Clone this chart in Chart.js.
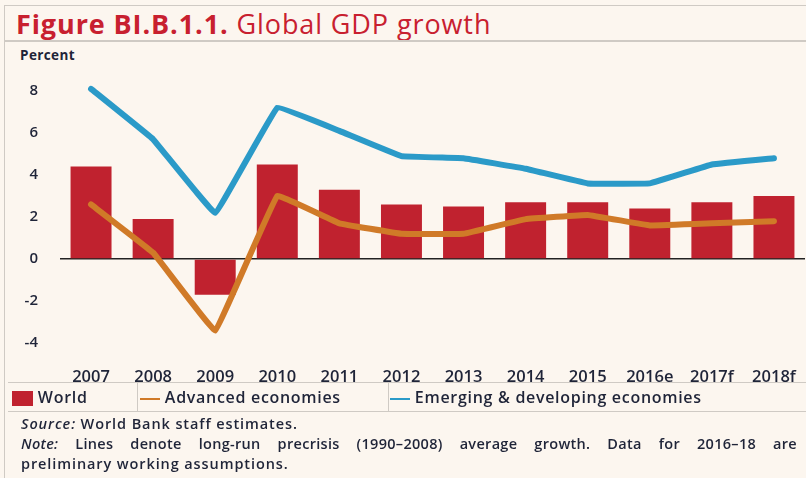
<!DOCTYPE html>
<html>
<head>
<meta charset="utf-8">
<script src="https://cdn.jsdelivr.net/npm/chart.js@4"></script>
<style>
  html, body { margin: 0; padding: 0; }
  body { width: 806px; height: 478px; background: #fcf6ef; position: relative; overflow: hidden;
         font-family: "Open Sans", sans-serif; color: #1f2438; }
  #frame { position: absolute; left: 4px; top: 5px; width: 810px; height: 472px;
           border-left: 1px solid #cfcac4; border-top: 1px solid #cfcac4; }
  #title { position: absolute; left: 16px; top: 5px; font-size: 27px; color: #c8202f; white-space: nowrap; letter-spacing: 0.9px; }
  #title b { font-weight: 700; }
  #titleRule { position: absolute; left: 4px; top: 40px; width: 802px; height: 0; border-top: 2px solid #cfcac4; }
  #unit { position: absolute; left: 20px; top: 46px; font-size: 13.5px; font-weight: 700; letter-spacing: 0.4px; }
  #wrap { position: absolute; left: 0; top: 60px; width: 806px; height: 325px; }
  #legend { position: absolute; left: 8px; top: 382px; width: 798px; height: 28px;
            border-top: 1px solid #cfcac4; border-bottom: 1px solid #cfcac4; font-size: 16px; font-weight: 600; letter-spacing: 0.7px; }
  .item { position: absolute; top: 0; height: 28px; line-height: 28px; white-space: nowrap; }
  .sep { position: absolute; top: 0; width: 0; height: 28px; border-left: 1px solid #cfcac4; }
  .sw { display: inline-block; vertical-align: middle; }
  #foot { position: absolute; left: 21px; top: 414px; width: 776px; font-size: 14.5px; font-weight: 600; line-height: 20px; letter-spacing: 0.9px; }
  #foot i { font-weight: 600; }
  .just { text-align: justify; text-align-last: justify; white-space: nowrap; letter-spacing: 0.3px; }
</style>
</head>
<body>
<div id="frame"></div>
<div id="title"><b>Figure BI.B.1.1.</b> Global GDP growth</div>
<div id="titleRule"></div>
<div id="unit">Percent</div>
<div id="wrap"><canvas id="graph"></canvas></div>
<div id="legend">
  <div class="item" style="left:4px"><span class="sw" style="width:21px;height:15px;background:#c0222f"></span> World</div>
  <div class="sep" style="left:129px"></div>
  <div class="item" style="left:132px"><span class="sw" style="width:20px;height:2px;background:#d07a28"></span> Advanced economies</div>
  <div class="sep" style="left:380px"></div>
  <div class="item" style="left:382px"><span class="sw" style="width:20px;height:2px;background:#2b9ac8"></span> Emerging &amp; developing economies</div>
</div>
<div id="foot">
  <div><i>Source:</i> World Bank staff estimates.</div>
  <div class="just"><i>Note:</i> Lines denote long-run precrisis (1990–2008) average growth. Data for 2016–18 are</div>
  <div>preliminary working assumptions.</div>
</div>

<script>
// values
const years = ['2007', '2008', '2009', '2010', '2011', '2012', '2013', '2014', '2015', '2016e', '2017f', '2018f'];
const world = [4.4, 1.9, -1.7, 4.5, 3.3, 2.6, 2.5, 2.7, 2.7, 2.4, 2.7, 3.0];
const advanced = [2.6, 0.3, -3.4, 3.0, 1.7, 1.2, 1.2, 1.9, 2.1, 1.6, 1.7, 1.8];
const emerging = [8.1, 5.7, 2.2, 7.2, 6.1, 4.9, 4.8, 4.3, 3.6, 3.6, 4.5, 4.8];
const yTicks = [8, 6, 4, 2, 0, -2, -4];

const tickFont = { family: 'Open Sans', size: 15, weight: '600' };

const cfg = {
  data: {
    labels: years,
    datasets: [
      {
        type: 'line',
        label: 'Emerging & developing economies',
        data: emerging,
        borderColor: '#2b9ac8',
        borderWidth: 6,
        borderCapStyle: 'round',
        borderJoinStyle: 'round',
        pointRadius: 0,
        tension: 0.05,
        clip: false,
        order: 0
      },
      {
        type: 'line',
        label: 'Advanced economies',
        data: advanced,
        borderColor: '#d07a28',
        borderWidth: 6,
        borderCapStyle: 'round',
        borderJoinStyle: 'round',
        pointRadius: 0,
        tension: 0.05,
        clip: false,
        order: 1
      },
      {
        type: 'bar',
        label: 'World',
        data: world,
        backgroundColor: '#c0222f',
        barPercentage: 0.66,
        categoryPercentage: 1,
        order: 2
      }
    ]
  },
  options: {
    responsive: true,
    maintainAspectRatio: false,
    animation: false,
    layout: { padding: { top: 26, right: 1, left: 0, bottom: 0 } },
    plugins: { legend: { display: false }, tooltip: { enabled: false } },
    scales: {
      x: {
        grid: { display: false },
        border: { display: false },
        ticks: { color: '#1f2438', font: { family: 'Open Sans', size: 16.5, weight: '600' }, padding: 16, maxRotation: 0, autoSkip: false },
        afterFit: (s) => { s.height = 42; s.paddingLeft = 0; s.paddingRight = 0; }
      },
      y: {
        min: -4,
        max: 8,
        afterBuildTicks: (s) => { s.ticks = yTicks.map(v => ({ value: v })); },
        grid: {
          drawTicks: false,
          color: (c) => c.tick && c.tick.value === 0 ? '#222222' : 'rgba(0,0,0,0)',
          lineWidth: 1.5
        },
        border: { display: false },
        ticks: { color: '#1f2438', font: tickFont, padding: 22 },
        afterFit: (s) => { s.width = 60; }
      }
    }
  }
};

new Chart(document.getElementById('graph'), cfg);
</script>
</body>
</html>
